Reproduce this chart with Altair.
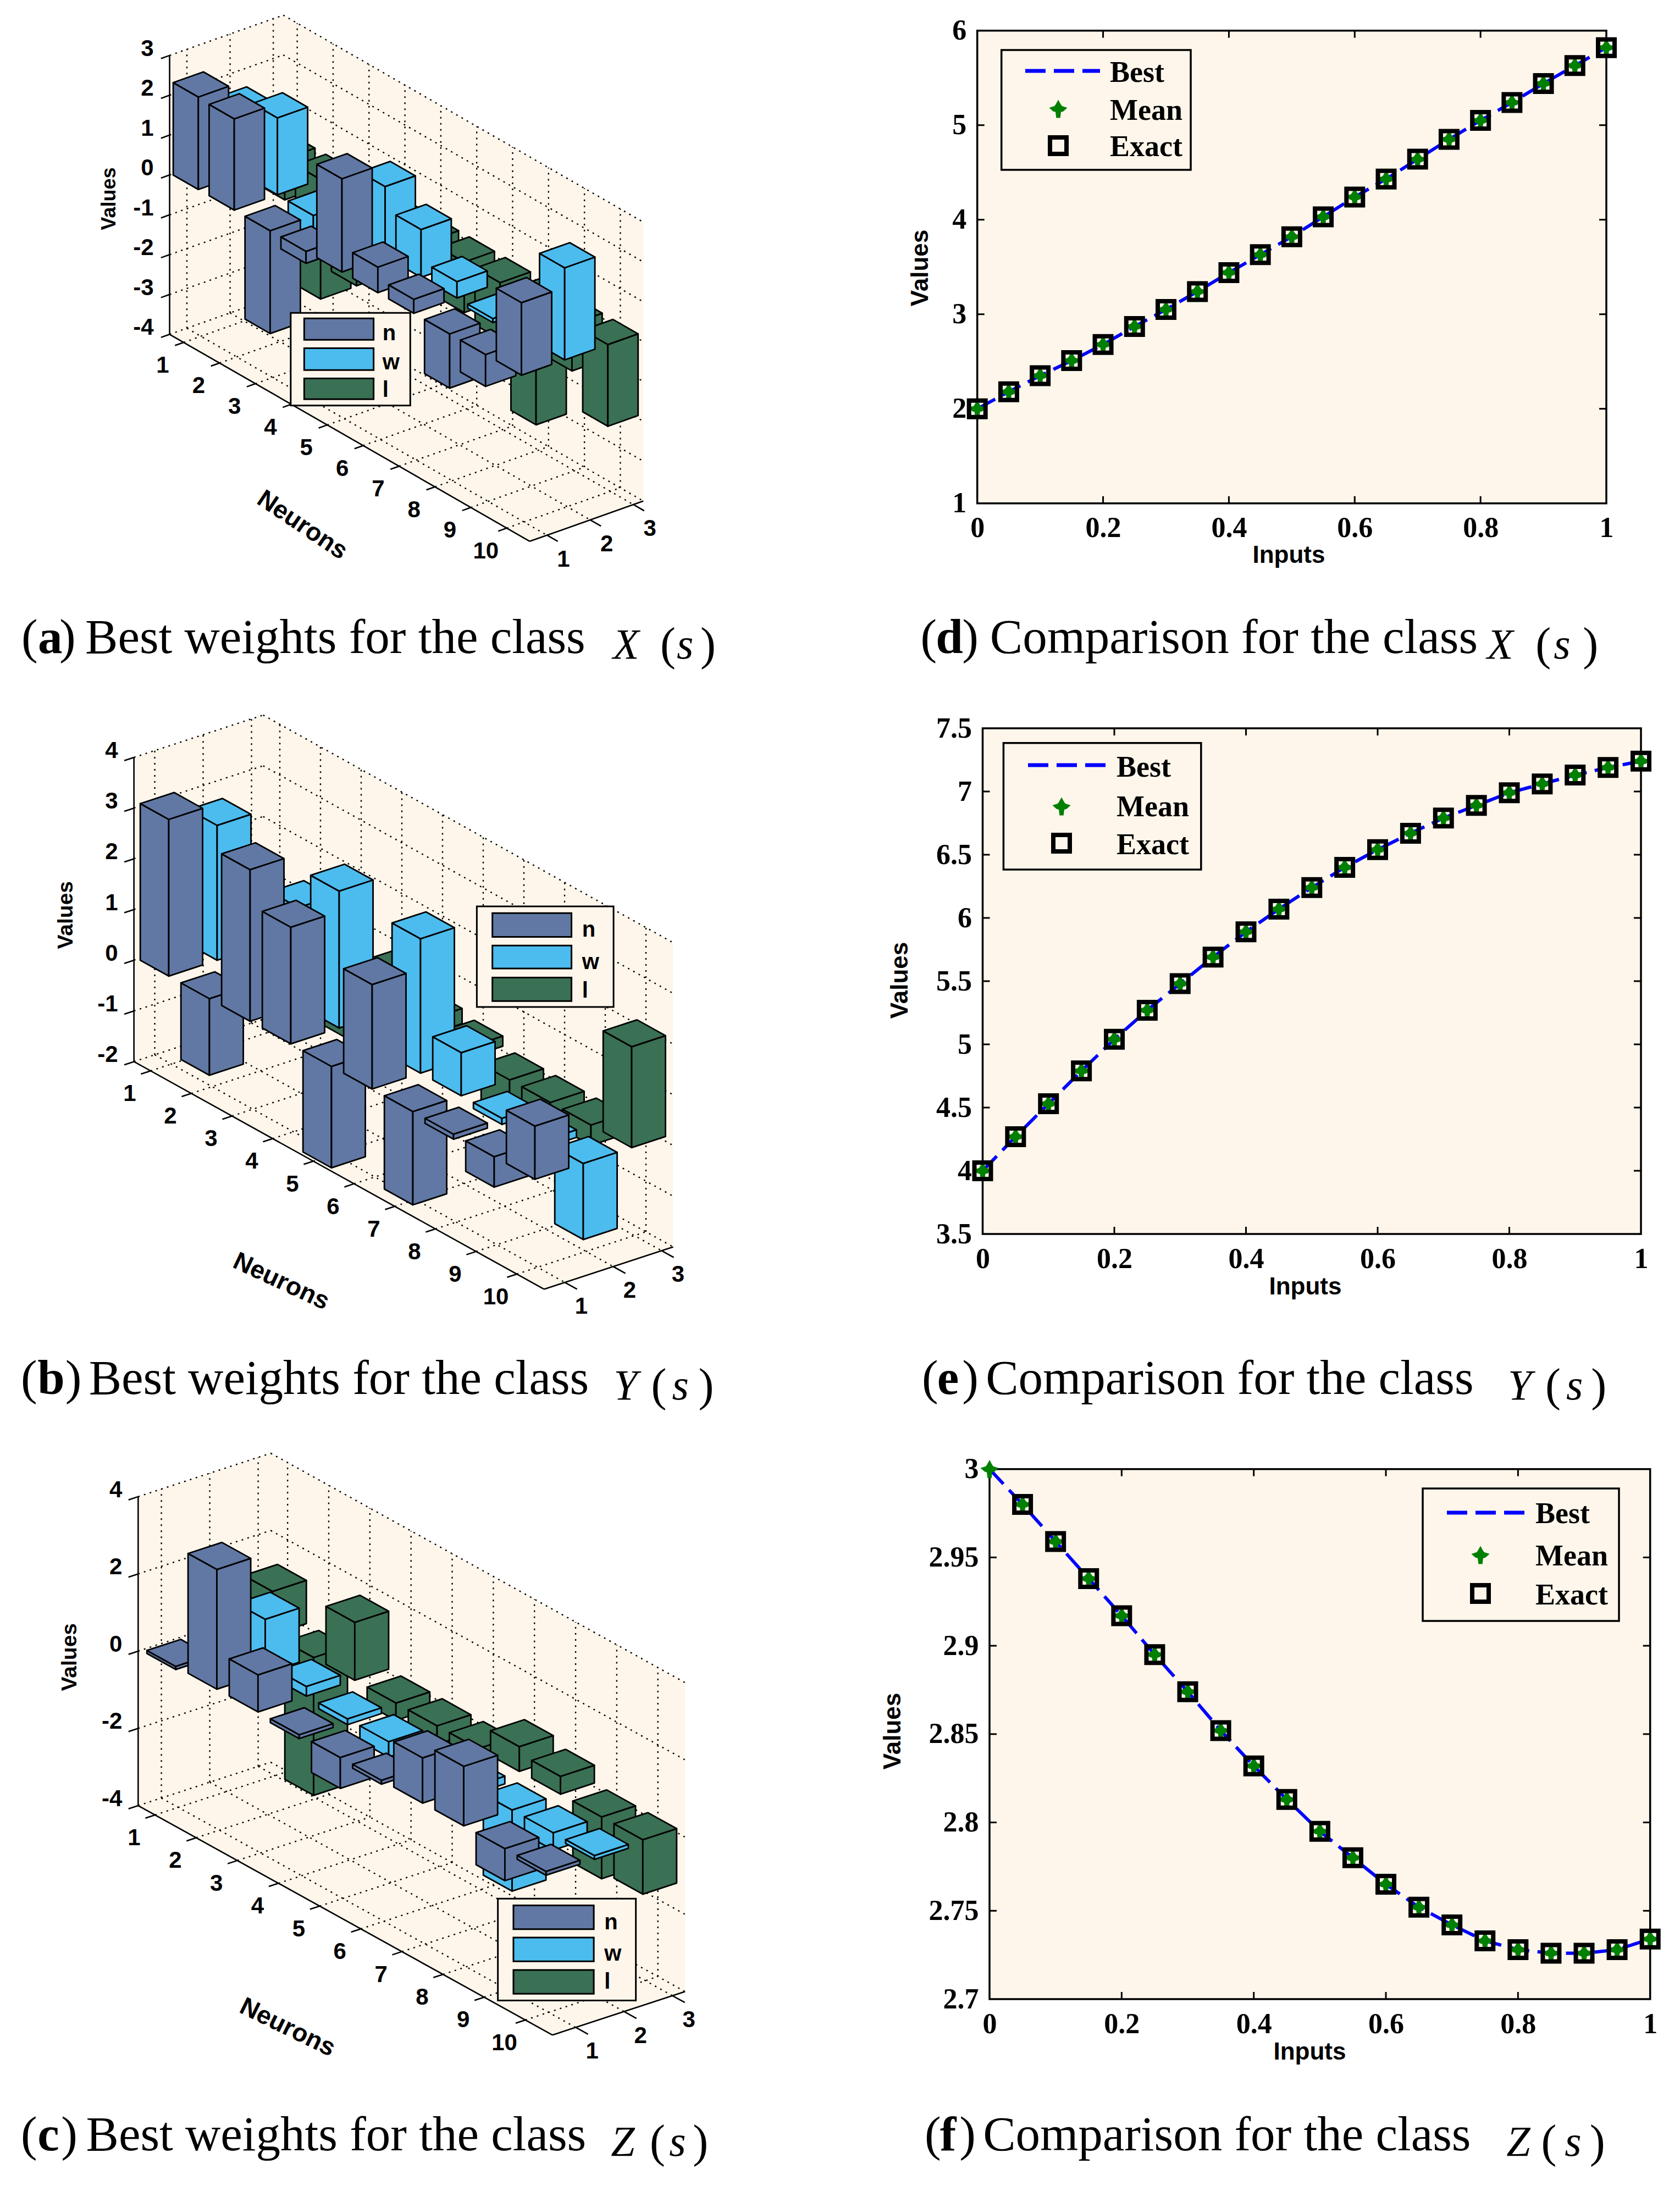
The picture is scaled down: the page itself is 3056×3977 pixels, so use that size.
import altair as alt
import pandas as pd

# ---------- data ----------
ROWS = list(range(1, 11))
SERIES = ["n", "w", "l"]
A_N = [2.32, 2.29, -2.58, -0.3, 2.34, 0.64, 0.35, -1.36, -0.8, 1.82]
A_W = [1.56, 1.93, -0.8, 0.5, 1.76, 1.2, 0.41, -0.1, 0.3, 2.31]
A_L = [-1.03, -3.0, -2.15, -1.0, -0.5, -1.27, -1.42, -3.05, -1.18, -2.05]
B_N = [3.09, -1.51, 2.99, 2.30, -2.0, 2.06, -1.84, -0.1, -0.6, 1.05]
B_W = [2.66, 1.0, 1.93, 2.70, 0.5, 2.65, 0.85, -0.12, -0.15, -1.5]
B_L = [0.3, 0.3, -0.96, 0.68, 0.3, 0.2, -0.8, -0.4, -0.4, 1.99]
C_N = [-0.08, 3.1, 0.96, -0.1, -0.8, -0.1, 1.17, 1.54, -0.83, -0.1]
C_W = [0.3, 1.4, 0.25, -0.15, -0.4, -0.2, -0.2, -2.1, -0.45, -0.1]
C_L = [1.12, -3.57, 1.5, -0.45, -0.48, -0.3, 0.64, 0.46, -1.6, -1.41]

INPUTS = [0, .05, .1, .15, .2, .25, .3, .35, .4, .45, .5, .55, .6, .65, .7, .75, .8, .85, .9, .95, 1]
D_Y = [2.0, 2.18, 2.35, 2.51, 2.68, 2.87, 3.05, 3.24, 3.44, 3.63, 3.82, 4.03, 4.24, 4.43, 4.64, 4.85, 5.05, 5.24, 5.44, 5.63, 5.82]
E_Y = [4.0, 4.27, 4.53, 4.79, 5.04, 5.27, 5.48, 5.69, 5.89, 6.07, 6.24, 6.40, 6.54, 6.67, 6.79, 6.89, 6.99, 7.06, 7.13, 7.19, 7.24]
F_Y = [3.0, 2.98, 2.959, 2.938, 2.917, 2.895, 2.874, 2.852, 2.832, 2.813, 2.795, 2.78, 2.765, 2.752, 2.742, 2.733, 2.728, 2.726, 2.726, 2.728, 2.734]

LEGEND_2D = ["Best", "Mean", "Exact"]
XTICKS = [0, .2, .4, .6, .8, 1]

# ---------- styles ----------
BG = "#FEF6EB"
COLORS = {"n": "#6178A4", "w": "#4CBCEE", "l": "#3A7054"}
W, H = 3040, 3961
SANS = "Liberation Sans"
NARROW = "Liberation Sans Narrow"
SERIF = "Liberation Serif"
PX = alt.Scale(domain=[8, 8 + W], range=[0, W])
PY = alt.Scale(domain=[8, 8 + H], range=[0, H])
GEO = dict(type="identity", scale=1, translate=[-8, -8])
layers = []


def rules(rows, **mark):
    df = pd.DataFrame(rows, columns=["x", "y", "x2", "y2"])
    return alt.Chart(df).mark_rule(**mark).encode(
        x=alt.X("x:Q", scale=PX, axis=None), y=alt.Y("y:Q", scale=PY, axis=None),
        x2="x2:Q", y2="y2:Q")


def texts(rows, **mark):
    df = pd.DataFrame(rows, columns=["x", "y", "t"])
    mark.setdefault("baseline", "middle")
    mark.setdefault("color", "black")
    return alt.Chart(df).mark_text(**mark).encode(
        x=alt.X("x:Q", scale=PX, axis=None), y=alt.Y("y:Q", scale=PY, axis=None),
        text="t:N")


def boxes(rows, **mark):
    df = pd.DataFrame(rows, columns=["x", "y", "x2", "y2", "c"])
    return alt.Chart(df).mark_rect(**mark).encode(
        x=alt.X("x:Q", scale=PX, axis=None), y=alt.Y("y:Q", scale=PY, axis=None),
        x2="x2:Q", y2="y2:Q", fill=alt.Fill("c:N", scale=None))


def poly(pts, color):
    ring = [list(p) for p in pts] + [list(pts[0])]
    return {"type": "Feature", "properties": {"c": color},
            "geometry": {"type": "Polygon", "coordinates": [ring]}}


# ---------- 3-D bar panels ----------
PANELS_3D = [
    dict(crop=(150, 20, 1.4255, 1.5077), left=(226, 887), ru=(93.1, 56.6), cu=(112, -42), zu=109.3,
         r0=.61, r1=10.64, c0=.6, c1=3.23, zmin=-4, zmax=3, zt=[-4, -3, -2, -1, 0, 1, 2, 3],
         vals=[A_N, A_W, A_L], leg=((540, 828, 850, 1082), (575, 755), [(843, 902), (925, 985), (1008, 1065)], 778, [885, 965, 1040]),
         val=(70, 515, 36), neu=(570, 1410, 34)),
    dict(crop=(60, 1290, 1.3067, 1.3876), left=(240, 890), ru=(96.7, 57), cu=(115, -40), zu=128,
         r0=.59, r1=10.67, c0=.57, c1=3.24, zmin=-2, zmax=4, zt=[-2, -1, 0, 1, 2, 3, 4],
         vals=[B_N, B_W, B_L], leg=((1055, 498, 1380, 752), (1092, 1280), [(515, 575), (597, 655), (678, 737)], 1305, [558, 640, 712]),
         val=(78, 520, 39), neu=(590, 1445, 25)),
    dict(crop=(60, 2640, 1.3067, 1.3876), left=(250, 895), ru=(97.8, 57.5), cu=(115, -40), zu=97.5,
         r0=.59, r1=10.66, c0=.52, c1=3.26, zmin=-4, zmax=4, zt=[-4, -2, 0, 2, 4],
         vals=[C_N, C_W, C_L], leg=((1105, 1130, 1433, 1387), (1142, 1333), [(1147, 1207), (1228, 1288), (1310, 1370)], 1358, [1190, 1270, 1340]),
         val=(88, 520, 39), neu=(605, 1455, 26)),
]
BAR_W = 0.7

for P in PANELS_3D:
    ox, oy, sx, sy = P["crop"]

    def page(zx, zy):
        return (ox + zx / sx, oy + zy / sy)

    def proj(c, r, z):
        zx = P["left"][0] + (c - P["c0"]) * P["cu"][0] + (r - P["r0"]) * P["ru"][0]
        zy = P["left"][1] + (c - P["c0"]) * P["cu"][1] + (r - P["r0"]) * P["ru"][1] - (z - P["zmin"]) * P["zu"]
        return page(zx, zy)

    c0, c1, r0, r1, zmin, zmax = P["c0"], P["c1"], P["r0"], P["r1"], P["zmin"], P["zmax"]
    # walls
    wall = [proj(c0, r0, zmin), proj(c0, r0, zmax), proj(c1, r0, zmax), proj(c1, r1, zmax), proj(c1, r1, zmin), proj(c0, r1, zmin)]
    layers.append(alt.Chart(alt.Data(values=[poly(wall, BG)])).mark_geoshape(fill=BG, strokeWidth=0).project(**GEO))
    # dotted grid
    seg = []
    for z in P["zt"]:
        seg += [(*proj(c0, r0, z), *proj(c1, r0, z)), (*proj(c1, r0, z), *proj(c1, r1, z))]
    for r in ROWS:
        seg += [(*proj(c0, r, zmin), *proj(c1, r, zmin)), (*proj(c1, r, zmin), *proj(c1, r, zmax))]
    for c in (1, 2, 3):
        seg += [(*proj(c, r0, zmin), *proj(c, r1, zmin)), (*proj(c, r0, zmin), *proj(c, r0, zmax))]
    layers.append(rules(seg, stroke="black", strokeWidth=2.4, strokeDash=[3, 8]))
    # axes lines and ticks
    ax = [(*proj(c0, r0, zmin), *proj(c0, r0, zmax)), (*proj(c0, r0, zmin), *proj(c0, r1, zmin)), (*proj(c0, r1, zmin), *proj(c1, r1, zmin))]
    for z in P["zt"]:
        ax.append((*proj(c0, r0, z), *proj(c0 - .2, r0, z)))
    for r in ROWS:
        ax.append((*proj(c0, r, zmin), *proj(c0 - .2, r, zmin)))
    for c in (1, 2, 3):
        ax.append((*proj(c, r1, zmin), *proj(c, r1 + .3, zmin)))
    layers.append(rules(ax, stroke="black", strokeWidth=2.6))
    # tick labels
    lab_z = []
    for z in P["zt"]:
        p = proj(c0, r0, z)
        lab_z.append((p[0] - 29, p[1] - 12, str(z)))
    layers.append(texts(lab_z, font=SANS, fontWeight="bold", fontSize=42, align="right"))
    lab_c = []
    for r in ROWS:
        p = proj(c0, r, zmin)
        lab_c.append((p[0] - 38, p[1] + 42, str(r)))
    for c in (1, 2, 3):
        p = proj(c, r1, zmin)
        lab_c.append((p[0] + 30, p[1] + 44, str(c)))
    layers.append(texts(lab_c, font=SANS, fontWeight="bold", fontSize=42, align="center"))
    # bars: back to front
    feats = []
    for ci in (2, 1, 0):
        col = ci + 1
        color = COLORS[SERIES[ci]]
        for r, v in zip(ROWS, P["vals"][ci]):
            top, bot = max(0, v), min(0, v)
            a, b = col - BAR_W / 2, col + BAR_W / 2
            f, g = r - BAR_W / 2, r + BAR_W / 2
            feats.append(poly([proj(a, f, top), proj(a, g, top), proj(a, g, bot), proj(a, f, bot)], color))
            feats.append(poly([proj(a, g, top), proj(b, g, top), proj(b, g, bot), proj(a, g, bot)], color))
            feats.append(poly([proj(a, f, top), proj(b, f, top), proj(b, g, top), proj(a, g, top)], color))
    layers.append(alt.Chart(alt.Data(values=feats)).mark_geoshape(stroke="black", strokeWidth=2.8, strokeJoin="round").encode(
        fill=alt.Fill("properties.c:N", scale=None)).project(**GEO))
    # axis titles
    vx, vy, vs = P["val"]
    layers.append(texts([(*page(vx, vy), "Values")], font=SANS, fontWeight="bold", fontSize=vs, align="center", angle=270))
    nx, ny, na = P["neu"]
    layers.append(texts([(*page(nx, ny), "Neurons")], font=SANS, fontWeight="bold", fontSize=46, align="center", angle=na))
    # legend
    (bx0, by0, bx1, by1), (sx0, sx1), sw, tx, ty = P["leg"]
    layers.append(boxes([(*page(bx0, by0), *page(bx1, by1), BG)], stroke="black", strokeWidth=3))
    layers.append(boxes([(*page(sx0, y0), *page(sx1, y1), COLORS[s]) for (y0, y1), s in zip(sw, SERIES)], stroke="black", strokeWidth=3))
    layers.append(texts([(*page(tx, y), s) for y, s in zip(ty, SERIES)], font=SANS, fontWeight="bold", fontSize=40, align="left"))

# ---------- 2-D comparison panels ----------
STAR = "M0,-1L.3,-.45L.42,-.3L1,-.12L.55,.28L.3,.35L.22,1L-.22,1L-.3,.35L-.55,.28L-1,-.12L-.42,-.3L-.3,-.45Z"
PANELS_2D = [
    dict(box=(1777.7, 55.7, 2922, 915.7), yd=(1, 6), yt=[1, 2, 3, 4, 5, 6], ys=D_Y, skip=False,
         vt=(1674, 487), it=(2344, 1010),
         leg=(1821.7, 91, 2166, 309), line=(1865, 2001, 129), mx=1925, my=(198, 265), tx=2019, ty=(133, 202, 268)),
    dict(box=(1787.5, 1325, 2985, 2245), yd=(3.5, 7.5), yt=[3.5, 4, 4.5, 5, 5.5, 6, 6.5, 7, 7.5], ys=E_Y, skip=False,
         vt=(1637, 1783), it=(2374, 2341),
         leg=(1825.4, 1351.7, 2184.8, 1582), line=(1870, 2013, 1392), mx=1931, my=(1467, 1534), tx=2031, ty=(1397, 1469, 1538)),
    dict(box=(1800, 2672.7, 3001.7, 3637), yd=(2.7, 3), yt=[2.7, 2.75, 2.8, 2.85, 2.9, 2.95, 3], ys=F_Y, skip=True,
         vt=(1624, 3149), it=(2382, 3733),
         leg=(2588, 2708, 2945, 2949), line=(2632, 2774, 2752), mx=2693, my=(2829, 2899), tx=2793, ty=(2755, 2832, 2903)),
]
TICK_PX = 13
for P in PANELS_2D:
    x0, y0, x1, y1 = P["box"]
    ya, yb = P["yd"]
    xs = alt.Scale(domain=[0, 1], range=[x0 - 8, x1 - 8], nice=False, zero=False)
    ysc = alt.Scale(domain=[ya, yb], range=[y1 - 8, y0 - 8], nice=False, zero=False)
    tick_font = dict(labelFont=NARROW, labelFontWeight="bold", labelFontSize=52, labelColor="black",
                     ticks=False, domain=False, grid=False, labelOverlap=False, labelFlush=False, labelBound=False,
                     titleFont=SANS, titleFontWeight="bold", titleColor="black", titleFontSize=44, format="~g")
    xaxis = alt.Axis(orient="bottom", values=XTICKS, offset=-(H - (y1 - 8)), labelPadding=20, labelBaseline="top",
                     title="Inputs", titleX=P["it"][0] - 8, titleY=P["it"][1] - y1, titleBaseline="middle", **tick_font)
    yaxis = alt.Axis(orient="left", values=P["yt"], offset=-(x0 - 8), labelPadding=20,
                     title="Values", titleX=P["vt"][0] - x0, titleY=P["vt"][1] - 8, titleBaseline="middle", **tick_font)
    frame = pd.DataFrame({"x": [0], "x2": [1], "y": [ya], "y2": [yb]})
    layers.append(alt.Chart(frame).mark_rect(fill=BG, stroke="black", strokeWidth=3.5).encode(
        x=alt.X("x:Q", scale=xs, axis=xaxis), x2="x2:Q",
        y=alt.Y("y:Q", scale=ysc, axis=yaxis), y2="y2:Q"))
    # inward ticks on all four sides
    dy = (yb - ya) * TICK_PX / (y1 - y0)
    dx = TICK_PX / (x1 - x0)
    tk = []
    for t in XTICKS[1:-1]:
        tk += [(t, ya, t, ya + dy), (t, yb, t, yb - dy)]
    for t in P["yt"][1:-1]:
        tk += [(0, t, dx, t), (1, t, 1 - dx, t)]
    tdf = pd.DataFrame(tk, columns=["x", "y", "x2", "y2"])
    layers.append(alt.Chart(tdf).mark_rule(stroke="black", strokeWidth=3).encode(
        x=alt.X("x:Q", scale=xs, axis=None), x2="x2:Q", y=alt.Y("y:Q", scale=ysc, axis=None), y2="y2:Q"))
    df = pd.DataFrame({"x": INPUTS, "y": P["ys"]})
    layers.append(alt.Chart(df).mark_line(stroke="#0000FF", strokeWidth=6, strokeDash=[37, 15], clip=False).encode(
        x=alt.X("x:Q", scale=xs, axis=None), y=alt.Y("y:Q", scale=ysc, axis=None)))
    layers.append(alt.Chart(df).mark_point(shape=STAR, filled=True, fill="#008000", strokeWidth=0, opacity=1, size=1100, clip=False).encode(
        x=alt.X("x:Q", scale=xs, axis=None), y=alt.Y("y:Q", scale=ysc, axis=None)))
    sq = df.iloc[1:] if P["skip"] else df
    layers.append(alt.Chart(sq).mark_point(shape="square", filled=False, stroke="black", strokeWidth=8, opacity=1, size=900, clip=False).encode(
        x=alt.X("x:Q", scale=xs, axis=None), y=alt.Y("y:Q", scale=ysc, axis=None)))
    # legend
    lx0, ly0, lx1, ly1 = P["leg"]
    layers.append(boxes([(lx0, ly0, lx1, ly1, BG)], stroke="black", strokeWidth=3.5))
    la, lb, ly = P["line"]
    layers.append(rules([(la, ly, lb, ly)], stroke="#0000FF", strokeWidth=7, strokeDash=[37, 15]))
    mdf1 = pd.DataFrame({"x": [P["mx"]], "y": [P["my"][0]]})
    mdf2 = pd.DataFrame({"x": [P["mx"]], "y": [P["my"][1]]})
    layers.append(alt.Chart(mdf1).mark_point(shape=STAR, filled=True, fill="#008000", strokeWidth=0, opacity=1, size=1100).encode(
        x=alt.X("x:Q", scale=PX, axis=None), y=alt.Y("y:Q", scale=PY, axis=None)))
    layers.append(alt.Chart(mdf2).mark_point(shape="square", filled=False, stroke="black", strokeWidth=8, opacity=1, size=900).encode(
        x=alt.X("x:Q", scale=PX, axis=None), y=alt.Y("y:Q", scale=PY, axis=None)))
    layers.append(texts([(P["tx"], y, s) for y, s in zip(P["ty"], LEGEND_2D)], font=NARROW, fontWeight="bold", fontSize=54, align="left"))

# ---------- captions ----------
K = 3056 / 1210
CAPTIONS = [
    # letter, main text, math, baseline, x of ( letter ) main, x of math parts  (reference thumbnail units)
    ("a", "Best weights for the class", "X", 470.4, (15.4, 27.3, 42.8, 61.4), (441.5, 475.5, 487.4, 504.4)),
    ("b", "Best weights for the class", "Y", 1004, (15, 27, 47, 64), (442, 469, 484, 503)),
    ("c", "Best weights for the class", "Z", 1549, (15, 27, 44, 62), (440, 468, 482, 499)),
    ("d", "Comparison for the class", "X", 470.4, (663, 674, 693, 713), (1071, 1106, 1119, 1140)),
    ("e", "Comparison for the class", "Y", 1004, (664, 675, 693, 710), (1086, 1113, 1128, 1146)),
    ("f", "Comparison for the class", "Z", 1549, (666, 677, 691, 708), (1085, 1110, 1127, 1145)),
]
normal, bold, math_i, math_p = [], [], [], []
for L, main, M, base, xa, xb in CAPTIONS:
    y = base * K
    normal += [(xa[0] * K, y, "("), (xa[2] * K, y, ")"), (xa[3] * K, y, main)]
    bold.append((xa[1] * K, y, L))
    math_i += [(xb[0] * K, y + 10, M), (xb[2] * K, y + 10, "s")]
    math_p += [(xb[1] * K, y + 12, "("), (xb[3] * K, y + 12, ")")]
layers.append(texts(normal, font=SERIF, fontSize=89, align="left", baseline="alphabetic"))
layers.append(texts(bold, font=SERIF, fontWeight="bold", fontSize=89, align="left", baseline="alphabetic"))
layers.append(texts(math_i, font=SERIF, fontStyle="italic", fontSize=78, align="left", baseline="alphabetic"))
layers.append(texts(math_p, font=SERIF, fontSize=84, align="left", baseline="alphabetic"))

chart = alt.layer(*layers).resolve_scale(x="independent", y="independent").properties(
    width=W, height=H, padding=0, autosize=alt.AutoSizeParams(type="none"), background="white"
).configure_view(stroke=None)

chart.save("out.html", embed_options={"renderer": "svg", "actions": False})
